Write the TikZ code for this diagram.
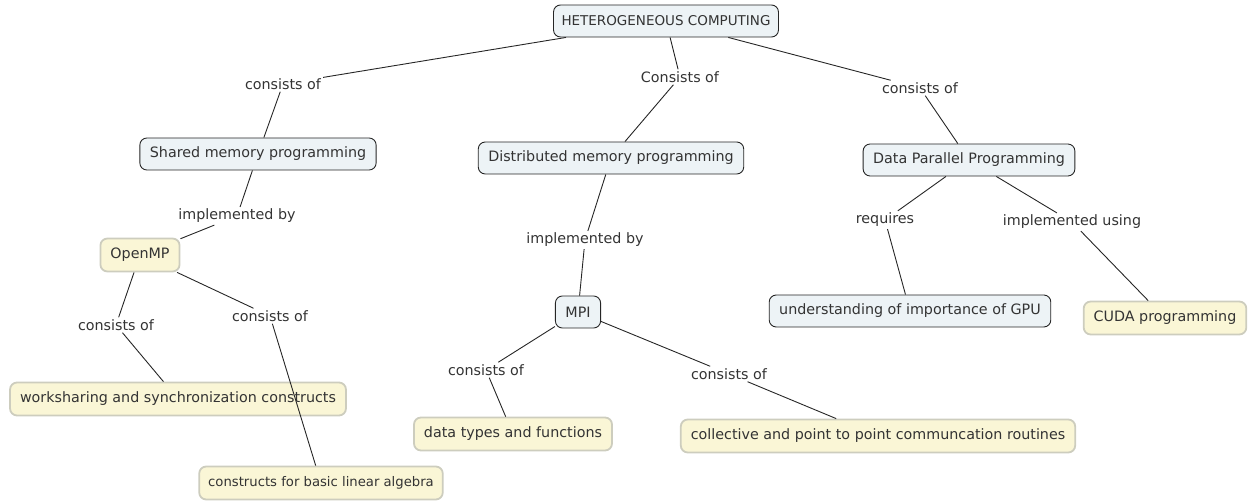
\documentclass[tikz,border=0pt]{standalone}
\usepackage{fontspec}
\setmainfont{DejaVu Sans}
\definecolor{bluefill}{HTML}{EDF3F6}
\definecolor{yelfill}{HTML}{FAF6D6}
\definecolor{yelborder}{HTML}{CDCDBE}
\definecolor{txt}{HTML}{333333}
\begin{document}
\begin{tikzpicture}[x=1pt,y=-1pt,
  every node/.style={font=\fontsize{14.3}{16}\selectfont, text=txt},
  bluebox/.style={draw=black!85, line width=0.9pt, fill=bluefill, rounded corners=7pt, minimum height=32pt, inner xsep=10pt},
  yelbox/.style={draw=yelborder, line width=1.8pt, fill=yelfill, rounded corners=7pt, minimum height=33pt, inner xsep=10pt},
  lbl/.style={inner sep=2pt},
  conn/.style={draw=black!85, line width=0.9pt}]
\useasboundingbox (0,0) rectangle (1248,502);
% concept nodes
\node[bluebox, font=\fontsize{13.5}{15}\selectfont, inner xsep=8pt] (hc) at (666,21) {HETEROGENEOUS COMPUTING};
\node[bluebox] (smp) at (258,154) {Shared memory programming};
\node[bluebox] (dmp) at (611,158) {Distributed memory programming};
\node[bluebox] (dpp) at (969,160) {Data Parallel Programming};
\node[yelbox] (omp) at (140,255) {OpenMP};
\node[bluebox] (mpi) at (578,312) {MPI};
\node[bluebox] (gpu) at (910,311) {understanding of importance of GPU};
\node[yelbox] (cuda) at (1165,318) {CUDA programming};
\node[yelbox] (ws) at (178,399) {worksharing and synchronization constructs};
\node[yelbox, font=\fontsize{13.2}{15}\selectfont, inner xsep=9pt] (la) at (321,483) {constructs for basic linear algebra};
\node[yelbox] (dt) at (513,434) {data types and functions};
\node[yelbox] (coll) at (878,436) {collective and point to point communcation routines};
% link labels
\node[lbl] (l1) at (283,84) {consists of};
\node[lbl] (l2) at (680,77) {Consists of};
\node[lbl] (l3) at (920,88) {consists of};
\node[lbl] (l4) at (237,216) {implemented by};
\node[lbl] (l5) at (585,240) {implemented by};
\node[lbl] (l6) at (885,220) {requires};
\node[lbl] (l7) at (1072,222) {implemented using};
\node[lbl] (l8) at (116,325) {consists of};
\node[lbl] (l9) at (270,316) {consists of};
\node[lbl] (l10) at (486,370) {consists of};
\node[lbl] (l11) at (729,374) {consists of};
% connectors
\path[conn] (hc) -- (l1) (l1) -- (smp);
\path[conn] (hc) -- (l2) (l2) -- (dmp);
\path[conn] (hc) -- (l3) (l3) -- (dpp);
\path[conn] (smp) -- (l4) (l4) -- (omp);
\path[conn] (dmp) -- (l5) (l5) -- (mpi);
\path[conn] (dpp) -- (l6) (l6) -- (gpu);
\path[conn] (dpp) -- (l7) (l7) -- (cuda);
\path[conn] (omp) -- (l8) (l8) -- (ws);
\path[conn] (omp) -- (l9) (l9) -- (la);
\path[conn] (mpi) -- (l10) (l10) -- (dt);
\path[conn] (mpi) -- (l11) (l11) -- (coll);
\end{tikzpicture}
\end{document}
